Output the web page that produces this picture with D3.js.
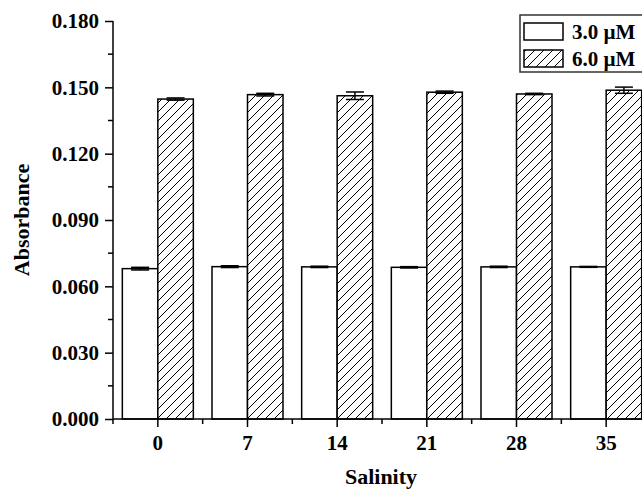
<!DOCTYPE html>
<html><head><meta charset="utf-8">
<script src="https://cdn.jsdelivr.net/npm/d3@7"></script>
<style>
body{margin:0;background:#fff;}
svg{display:block;}
text{font-family:"Liberation Serif","Times New Roman",serif;font-weight:bold;fill:#000;}
</style></head>
<body><svg id="c" width="642" height="490"></svg>
<script>
const categories = ["0","7","14","21","28","35"];
const seriesNames = ["3.0 µM","6.0 µM"];
const values3 = [0.0680,0.0689,0.0688,0.0686,0.0688,0.0688];
const errors3 = [0.0006,0.0004,0.0003,0.0003,0.0003,0.0002];
const values6 = [0.1447,0.1467,0.1462,0.1478,0.1470,0.1487];
const errors6 = [0.0005,0.0006,0.0017,0.0005,0.0003,0.0014];
const yTicks = [0.000,0.030,0.060,0.090,0.120,0.150,0.180];
const yMinorTicks = [0.015,0.045,0.075,0.105,0.135,0.165];

const svg = d3.select("#c");
const L = 113, R = 651, T = 21, B = 419;

const x = d3.scaleBand().domain(categories).range([L,R]).paddingInner(0).paddingOuter(0);
const xs = d3.scaleBand().domain(seriesNames).range([-35.5,35.5]);
const y = d3.scaleLinear().domain([0,0.18]).range([B,T]);

const defs = svg.append("defs");
const pat = defs.append("pattern").attr("id","hatch").attr("patternUnits","userSpaceOnUse")
  .attr("width",9).attr("height",9);
pat.append("rect").attr("width",9).attr("height",9).attr("fill","#fff");
pat.append("path").attr("d","M-2,2 L2,-2 M0,9 L9,0 M7,11 L11,7").attr("stroke","#000").attr("stroke-width",1);

const data = [];
categories.forEach((c,i)=>{
  data.push({c, s:seriesNames[0], v:values3[i], e:errors3[i]});
  data.push({c, s:seriesNames[1], v:values6[i], e:errors6[i]});
});
const cx = d => x(d.c) + x.bandwidth()/2 + xs(d.s);

// bars
svg.append("g").selectAll("rect").data(data).join("rect")
  .attr("x", cx)
  .attr("y", d=>y(d.v))
  .attr("width", xs.bandwidth())
  .attr("height", d=>y(0)-y(d.v))
  .attr("fill", d=> d.s===seriesNames[1] ? "url(#hatch)" : "#fff")
  .attr("stroke","#000").attr("stroke-width",1.5);

// error bars
const eg = svg.append("g").attr("stroke","#000").attr("stroke-width",1.5);
data.forEach(d=>{
  const mx = cx(d) + xs.bandwidth()/2;
  const cw = 9;
  eg.append("line").attr("x1",mx).attr("x2",mx).attr("y1",y(d.v+d.e)).attr("y2",y(d.v-d.e));
  eg.append("line").attr("x1",mx-cw).attr("x2",mx+cw).attr("y1",y(d.v+d.e)).attr("y2",y(d.v+d.e));
  eg.append("line").attr("x1",mx-cw).attr("x2",mx+cw).attr("y1",y(d.v-d.e)).attr("y2",y(d.v-d.e));
});

// y axis
const ya = svg.append("g").attr("transform",`translate(${L},0)`)
  .call(d3.axisLeft(y).tickValues(yTicks).tickFormat(d3.format(".3f")).tickSize(8).tickPadding(6));
ya.select(".domain").attr("stroke-width",1.5).attr("d",`M0,${B}V${T}`);
ya.selectAll(".tick line").attr("stroke-width",1.5);
ya.selectAll("text").style("font-size","21px");
svg.append("g").selectAll("line").data(yMinorTicks).join("line")
  .attr("x1",L-5).attr("x2",L).attr("y1",d=>y(d)).attr("y2",d=>y(d))
  .attr("stroke","#000").attr("stroke-width",1.5);

// x axis
const xa = svg.append("g").attr("transform",`translate(0,${B})`)
  .call(d3.axisBottom(x).tickSize(8).tickPadding(8));
xa.select(".domain").attr("stroke-width",1.5).attr("d",`M${L},0H${R}`);
xa.selectAll(".tick line").attr("stroke-width",1.5);
xa.selectAll("text").style("font-size","21px");
const minorX = categories.map(c=>x(c)).concat([R]);
svg.append("g").selectAll("line").data(minorX).join("line")
  .attr("x1",d=>d).attr("x2",d=>d).attr("y1",B).attr("y2",B+5)
  .attr("stroke","#000").attr("stroke-width",1.5);

// axis titles
svg.append("text").attr("x",381).attr("y",484).attr("text-anchor","middle")
  .style("font-size","22px").text("Salinity");
svg.append("text").attr("transform","translate(29,220) rotate(-90)").attr("text-anchor","middle")
  .style("font-size","22px").text("Absorbance");

// legend
const lg = svg.append("g");
lg.append("rect").attr("x",520).attr("y",15).attr("width",140).attr("height",57)
  .attr("fill","#fff").attr("stroke","#333").attr("stroke-width",1.5);
const ly = [23,50];
seriesNames.forEach((s,i)=>{
  lg.append("rect").attr("x",524).attr("y",ly[i]).attr("width",39).attr("height",17)
    .attr("fill", i===1 ? "url(#hatch)" : "#fff").attr("stroke","#000").attr("stroke-width",1.5);
  lg.append("text").attr("x",572).attr("y",ly[i]+16).style("font-size","21px").text(s);
});
</script></body></html>
